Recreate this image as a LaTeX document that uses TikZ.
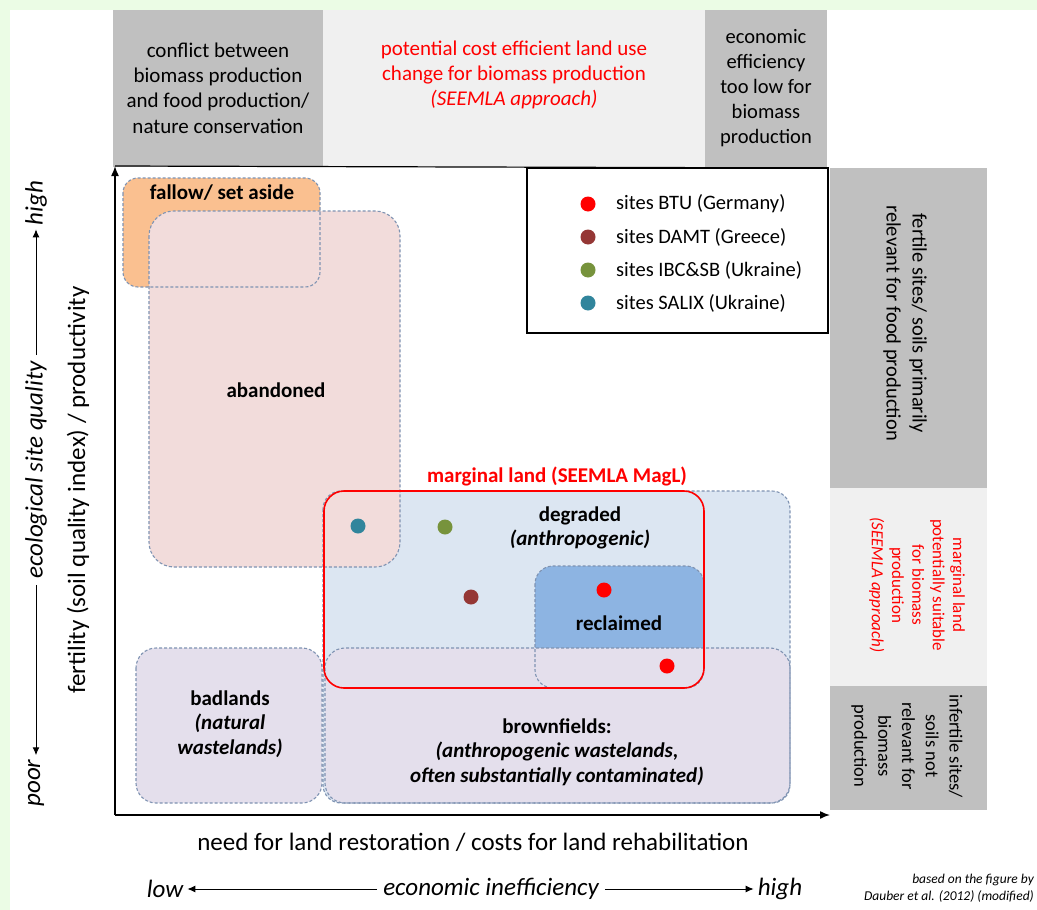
\documentclass[tikz,border=0pt]{standalone}
\usepackage{fontspec}
\setmainfont{Carlito}
\usetikzlibrary{arrows.meta}
\definecolor{bggreen}{HTML}{EBFCE5}
\definecolor{gdark}{HTML}{C0C0C0}
\definecolor{glight}{HTML}{F0F0F0}
\definecolor{orangef}{HTML}{FAC090}
\definecolor{pinkf}{HTML}{F2DCDB}
\definecolor{bluef}{HTML}{DCE6F2}
\definecolor{lavf}{HTML}{E4DFEC}
\definecolor{reclf}{HTML}{8DB4E2}
\definecolor{dashc}{HTML}{7F93B2}
\definecolor{btu}{HTML}{FF0000}
\definecolor{damt}{HTML}{953735}
\definecolor{ibc}{HTML}{77933C}
\definecolor{salix}{HTML}{31859C}
\definecolor{redt}{HTML}{FF0000}
\tikzset{
  txt/.style={inner sep=0pt, align=center, font=\fontsize{21}{25.3}\selectfont},
  btxt/.style={inner sep=0pt, align=center, font=\fontsize{21}{24.5}\selectfont\bfseries},
  axtxt/.style={inner sep=0pt, align=center, font=\fontsize{25}{28}\selectfont},
  area/.style={draw=dashc, line width=1.1pt, dash pattern=on 3pt off 2pt, rounded corners=#1},
  area/.default=18pt,
  dotmark/.style={circle, inner sep=0pt, minimum size=15pt, fill=#1},
  axis/.style={line width=1.5pt, -{Latex[length=10pt,width=8pt]}},
  thinarrow/.style={line width=1pt, -{Latex[length=8pt,width=7pt]}, shorten >=4pt, shorten <=6pt},
}
\begin{document}
\begin{tikzpicture}[x=1pt,y=-1pt]
\useasboundingbox (0,0) rectangle (1037,910);
\fill[bggreen] (0,0) rectangle (1037,910);
\fill[white] (10,10) rectangle (1037,910);
% top header boxes
\fill[gdark] (113,10) rectangle (323,167);
\fill[glight] (323,10) rectangle (705,167);
\fill[gdark] (705,10) rectangle (827,167);
\node[txt, font=\fontsize{21}{25.3}\selectfont] (hdl) at (218,88) {conflict between\\biomass production\\and food production/\\nature conservation};
\node[txt, text=redt, font=\fontsize{21}{25.3}\selectfont] (hdm) at (514,75) {potential cost efficient land use\\change for biomass production\\\textit{(SEEMLA approach)}};
\node[txt, font=\fontsize{20.5}{25.2}\selectfont] (hdr) at (766,88) {economic\\efficiency\\too low for\\biomass\\production};
% right column boxes
\fill[gdark] (830,168) rectangle (987,488);
\fill[glight] (830,488) rectangle (987,686);
\fill[gdark] (830,686) rectangle (987,810);
\node[txt, rotate=-90, font=\fontsize{20.5}{26}\selectfont] (rc1) at (905,323) {fertile sites/ soils primarily\\relevant for food production};
\node[txt, rotate=-90, text=redt, font=\fontsize{17}{20.3}\selectfont] (rc2) at (917,585) {marginal land\\potentially suitable\\for biomass\\production\\\textit{(SEEMLA approach)}};
\node[txt, rotate=-90, font=\fontsize{18.5}{23.8}\selectfont] (rc3) at (907,746) {infertile sites/\\soils not\\relevant for\\biomass\\production};
% areas fills
\fill[bluef, rounded corners=18pt] (323,491) rectangle (790,803);
\fill[orangef, rounded corners=15pt] (123,178) rectangle (320,287);
\fill[pinkf, rounded corners=25pt] (149,211) rectangle (400,567);
\fill[reclf, rounded corners=18pt] (535,566) rectangle (704,688);
\fill[lavf, rounded corners=20pt] (325,648) rectangle (790,803);
\fill[lavf, rounded corners=20pt] (136,648) rectangle (322,803);
% areas borders
\draw[area=15pt] (123,178) rectangle (320,287);
\draw[area=25pt] (149,211) rectangle (400,567);
\draw[area=18pt] (323,491) rectangle (790,803);
\draw[area=18pt] (535,566) rectangle (704,688);
\draw[area=20pt] (325,648) rectangle (790,803);
\draw[area=20pt] (136,648) rectangle (322,803);
% marginal land frame
\draw[redt, line width=1.6pt, rounded corners=20pt] (324,491) rectangle (704,688);
\node[btxt, text=redt] (mlab) at (557,476) {marginal land (SEEMLA MagL)};
% area labels
\node[btxt] (fallow) at (222,193) {fallow/ set aside};
\node[btxt] (aband) at (276,390) {abandoned};
\node[btxt] (degr) at (580,528) {degraded\\\textit{(anthropogenic)}};
\node[btxt] (recl) at (619,623) {reclaimed};
\node[btxt] (badl) at (230,724) {badlands\\\textit{(natural}\\\textit{wastelands)}};
\node[btxt] (brown) at (557,752) {brownfields:\\\textit{(anthropogenic wastelands,}\\\textit{often substantially contaminated)}};
% site dots
\node[dotmark=salix] (d1) at (358,526) {};
\node[dotmark=ibc] (d2) at (445,527) {};
\node[dotmark=damt] (d3) at (471,597) {};
\node[dotmark=btu] (d4) at (604,590) {};
\node[dotmark=btu] (d5) at (667,666) {};
% legend
\draw[line width=1.2pt, fill=white] (527,168) rectangle (828,333);
\node[dotmark=btu] (l1) at (588,204) {};
\node[dotmark=damt] (l2) at (588,237) {};
\node[dotmark=ibc] (l3) at (588,270) {};
\node[dotmark=salix] (l4) at (588,303) {};
\node[txt, anchor=west, font=\fontsize{20.5}{24}\selectfont] (lt1) at (616,204) {sites BTU (Germany)};
\node[txt, anchor=west, font=\fontsize{20.5}{24}\selectfont] (lt2) at (616,237) {sites DAMT (Greece)};
\node[txt, anchor=west, font=\fontsize{20.5}{24}\selectfont] (lt3) at (616,270) {sites IBC\&SB (Ukraine)};
\node[txt, anchor=west, font=\fontsize{20.5}{24}\selectfont] (lt4) at (616,303) {sites SALIX (Ukraine)};
% frame and axes
\coordinate (orig) at (115,815);
\coordinate (ytop) at (115,166);
\coordinate (xend) at (830,815);
\coordinate (tr) at (828,168);
\draw[line width=1.2pt] (ytop) -- (tr);
\draw[axis] (orig) -- (ytop);
\draw[axis] (orig) -- (xend);
% left axis labels
\node[axtxt, rotate=90, font=\fontsize{25}{28}\selectfont\itshape] (poor) at (36,783) {poor};
\node[axtxt, rotate=90, font=\fontsize{25}{28}\selectfont\itshape] (esq) at (36,470) {ecological site quality};
\node[axtxt, rotate=90, font=\fontsize{25}{28}\selectfont\itshape] (high) at (36,203) {high};
\draw[thinarrow] (esq.west) -- (poor.east);
\draw[thinarrow] (esq.east) -- (high.west);
\node[axtxt, rotate=90] (fert) at (78,490) {fertility (soil quality index) / productivity};
% bottom labels
\node[axtxt] (need) at (473,842) {need for land restoration / costs for land rehabilitation};
\node[axtxt, font=\fontsize{25}{28}\selectfont\itshape] (low) at (165,889) {low};
\node[axtxt, font=\fontsize{25}{28}\selectfont\itshape] (ei) at (491,889) {economic inefficiency};
\node[axtxt, font=\fontsize{25}{28}\selectfont\itshape] (xhigh) at (780,889) {high};
\draw[thinarrow] (ei.west) -- (low.east);
\draw[thinarrow] (ei.east) -- (xhigh.west);
\node[txt, anchor=east, align=right, font=\fontsize{13.5}{17}\selectfont\itshape] (credit) at (1034,888) {based on the figure by\\Dauber et al. (2012) (modified)};
\end{tikzpicture}
\end{document}
